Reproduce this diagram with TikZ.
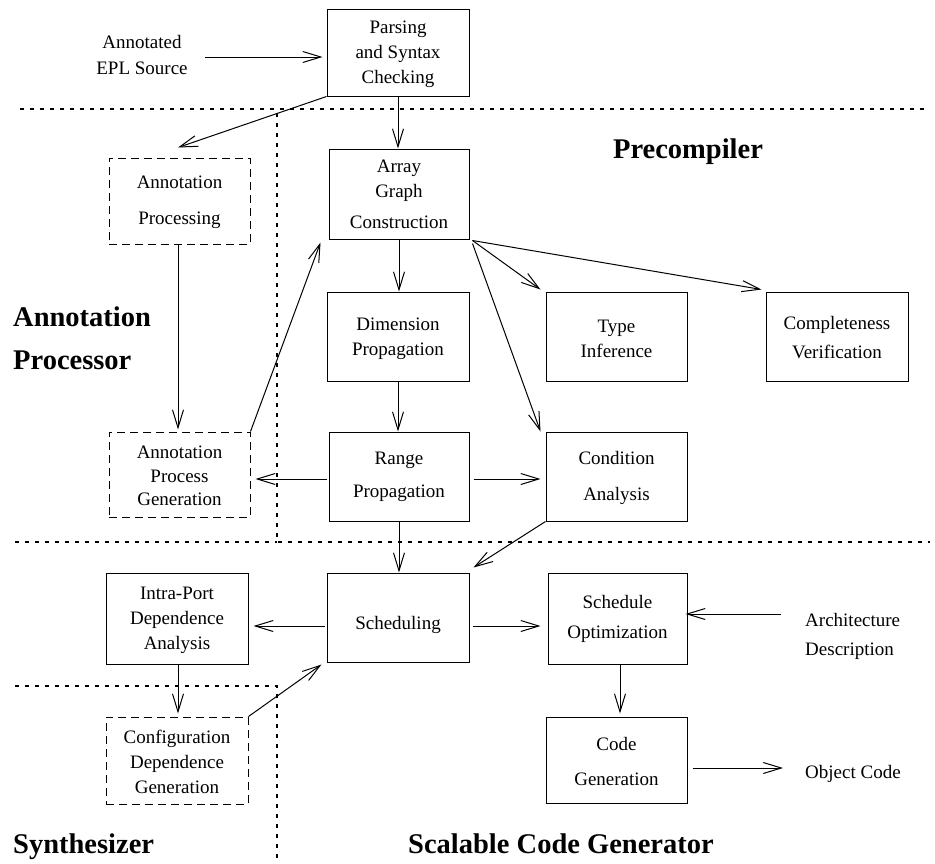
\documentclass[tikz,border=0pt]{standalone}
\usepackage{fontspec}
\setmainfont{Liberation Serif}
\usetikzlibrary{arrows.meta}
\begin{document}
\begin{tikzpicture}[x=1pt,y=-1pt,
  box/.style={draw, line width=1pt, minimum width=142pt, minimum height=89pt,
    inner sep=0pt, align=center, font=\fontsize{19}{25}\selectfont},
  dbox/.style={box, dash pattern=on 8pt off 5pt},
  lbl/.style={inner sep=0pt, font=\fontsize{19}{26}\selectfont},
  region/.style={inner sep=0pt, font=\fontsize{28.5}{43}\selectfont\bfseries},
  arr/.style={line width=1pt, -{Straight Barb[length=18pt,width=11pt,line width=1pt]}},
  sep/.style={line width=1.6pt, dash pattern=on 3.5pt off 6.5pt}]

\useasboundingbox[fill=white] (0,0) rectangle (935,863);

% region separators
\draw[sep] (20,109) -- (930,109);
\draw[sep] (277,113) -- (277,542) -- (930,542);
\draw[sep] (15,542) -- (277,542);
\draw[sep] (15,686) -- (277,686) -- (277,863);

% region titles
\node[region, anchor=west, align=left] (tAP) at (13,338) {Annotation\\Processor};
\node[region, anchor=base] (tPC) at (688,158) {Precompiler};
\node[region, anchor=base west] (tSY) at (13,853) {Synthesizer};
\node[region, anchor=base west] (tSG) at (408,853) {Scalable Code Generator};

% processing stages
\node[box, minimum height=87pt] (parse) at (398,52.5) {\rule{0pt}{16pt}Parsing\\and Syntax\\Checking};
\node[dbox, minimum width=141pt, minimum height=86pt] (annproc) at (179.5,201) {\rule{0pt}{16pt}Annotation\\[11pt]Processing};
\node[box, minimum width=140pt, minimum height=90pt] (agc) at (399,194) {Array\\Graph\\[6pt]Construction};
\node[box] (dimprop) at (398,336.5) {\rule{0pt}{17pt}Dimension\\Propagation};
\node[box, minimum width=140pt] (rangeprop) at (399,476.5) {Range\\[8pt]Propagation};
\node[box, minimum width=141pt] (typeinf) at (616.5,336.5) {\rule{0pt}{17pt}Type\\Inference};
\node[box] (complete) at (837,336.5) {\rule{0pt}{16pt}Completeness\\[4pt]Verification};
\node[box, minimum width=141pt] (condan) at (616.5,476.5) {\rule{0pt}{16pt}Condition\\[11pt]Analysis};
\node[dbox, minimum width=141pt, minimum height=85pt, font=\fontsize{19}{23.5}\selectfont] (apg) at (179.5,474.5) {\rule{0pt}{16pt}Annotation\\Process\\Generation};
\node[box, minimum height=91pt] (intraport) at (177,618.5) {\rule{0pt}{16pt}Intra-Port\\Dependence\\Analysis};
\node[box] (sched) at (398,617.5) {\rule{0pt}{28pt}Scheduling};
\node[box, minimum width=139pt, minimum height=91pt] (schedopt) at (617.5,618.5) {Schedule\\[5pt]Optimization};
\node[dbox, minimum height=87pt] (cdg) at (177,760.5) {\rule{0pt}{16pt}Configuration\\Dependence\\Generation};
\node[box, minimum width=141pt, minimum height=86pt] (codegen) at (616.5,760) {\rule{0pt}{17pt}Code\\[10pt]Generation};

% external inputs and outputs
\node[lbl, align=center] (src) at (142,55) {Annotated\\EPL Source};
\node[lbl, anchor=west, align=left, font=\fontsize{19}{29}\selectfont] (arch) at (805,636) {Architecture\\Description};
\node[lbl, anchor=west] (obj) at (805,774) {Object Code};

% data flow
\draw[arr, shorten >=4pt] ([xshift=17pt,yshift=-2pt]src.east) -- ([yshift=-4.5pt]parse.west);
\draw[arr] (parse.south west) -- ([xshift=-1.5pt,yshift=10pt]annproc.north);
\draw[arr] (parse.south) -- (parse.south |- agc.north);
\draw[arr, shorten >=2pt] ([xshift=-1.5pt]annproc.south) -- ([xshift=-1.5pt]apg.north);
\draw[arr] (apg.north east) -- ([xshift=-8pt,yshift=-3pt]agc.south west);
\draw[arr] (agc.south) -- (agc.south |- dimprop.north);
\draw[arr] (dimprop.south) -- (dimprop.south |- rangeprop.north);
\draw[arr, shorten <=2pt, shorten >=5pt] ([yshift=-2.5pt]rangeprop.west) -- ([yshift=-4.5pt]apg.east);
\draw[arr, shorten <=4pt, shorten >=5pt] ([yshift=-2.5pt]rangeprop.east) -- ([yshift=-2.5pt]condan.west);
\draw[arr] ([xshift=3pt,yshift=-1pt]agc.south east) -- ([xshift=-5pt,yshift=2pt]typeinf.north west);
\draw[arr] ([xshift=3pt,yshift=-1pt]agc.south east) -- ([xshift=-4pt,yshift=2pt]complete.north west);
\draw[arr] ([xshift=3pt,yshift=-4pt]agc.south east) -- ([xshift=-5pt]condan.north west);
\draw[arr] (condan.south west) -- ([xshift=4pt,yshift=5pt]sched.north east);
\draw[arr] (rangeprop.south) -- (rangeprop.south |- sched.north);
\draw[arr, shorten <=2pt, shorten >=5pt] ([yshift=-8.5pt]sched.west) -- ([yshift=-7.5pt]intraport.east);
\draw[arr, shorten >=3pt] ([xshift=1pt]intraport.south) -- ([xshift=1pt]cdg.north);
\draw[arr] (cdg.north east) -- ([xshift=-5pt,yshift=-2pt]sched.south west);
\draw[arr, shorten <=3pt, shorten >=7pt] ([yshift=-8.5pt]sched.east) -- ([yshift=-7.5pt]schedopt.west);
\draw[arr] ([xshift=-24pt,yshift=22pt]arch.west) -- ([xshift=-2pt,yshift=4.5pt]schedopt.east);
\draw[arr, shorten >=3pt] ([xshift=2.5pt]schedopt.south) -- ([xshift=3.5pt]codegen.north);
\draw[arr] ([xshift=5pt,yshift=-8pt]codegen.east) -- ([xshift=-22pt,yshift=6pt]obj.west);

\end{tikzpicture}
\end{document}
